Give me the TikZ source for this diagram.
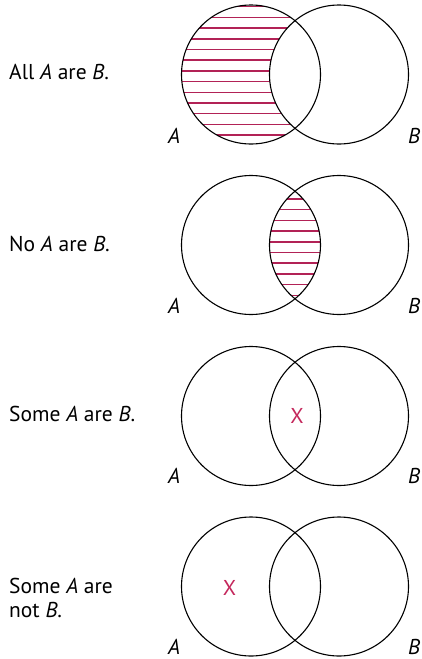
\documentclass[tikz,border=0pt]{standalone}
\usepackage{fontspec}
\setmainfont{PT Sans}
\definecolor{hatch}{RGB}{178,34,86}
\definecolor{xmark}{RGB}{196,40,92}
\begin{document}
\begin{tikzpicture}[x=1pt,y=-1pt,
  venn/.style={draw=black,line width=1.1pt,circle,minimum size=139pt,inner sep=0pt},
  lbl/.style={font=\fontsize{21.5}{24}\selectfont,anchor=base west,inner sep=0pt},
  setlbl/.style={font=\fontsize{21.5}{24}\selectfont\itshape,anchor=base,inner sep=0pt},
  hatchline/.style={draw=hatch,line width=1.5pt},
  xlbl/.style={font=\fontsize{21.5}{24}\selectfont,text=xmark,inner sep=0pt}]
\useasboundingbox (0,0) rectangle (421,659);
% ---------- row 1 ----------
\begin{scope}[even odd rule]
  \clip (251,74.5) circle (69.5);
  \clip (0,0) rectangle (421,160) (339,74.5) circle (69.5);
  \foreach \k in {0,...,12} {
    \draw[hatchline] (170,{6.7+10.7*\k}) -- (330,{6.7+10.7*\k});
  }
\end{scope}
\node[venn] (a1) at (251,74.5) {};
\node[venn] (b1) at (339,74.5) {};
\node[lbl] (t1) at (9,79) {All \textit{A} are \textit{B}.};
\node[setlbl] (la1) at (174,143) {A};
\node[setlbl] (lb1) at (414,143) {B};
% ---------- row 2 ----------
\begin{scope}
  \clip (251,245) circle (69.5);
  \clip (339,245) circle (69.5);
  \foreach \k in {0,...,11} {
    \draw[hatchline] (260,{188.3+10.7*\k}) -- (330,{188.3+10.7*\k});
  }
\end{scope}
\node[venn] (a2) at (251,245) {};
\node[venn] (b2) at (339,245) {};
\node[lbl] (t2) at (9,251) {No \textit{A} are \textit{B}.};
\node[setlbl] (la2) at (174,313) {A};
\node[setlbl] (lb2) at (414,313) {B};
% ---------- row 3 ----------
\node[venn] (a3) at (251,416) {};
\node[venn] (b3) at (339,416) {};
\node[xlbl] (x3) at (297,416) {X};
\node[lbl] (t3) at (9,421) {Some \textit{A} are \textit{B}.};
\node[setlbl] (la3) at (174,483) {A};
\node[setlbl] (lb3) at (414,483) {B};
% ---------- row 4 ----------
\node[venn] (a4) at (251,586.5) {};
\node[venn] (b4) at (339,586.5) {};
\node[xlbl] (x4) at (229.5,587.5) {X};
\node[lbl] (t4a) at (9,593) {Some \textit{A} are};
\node[lbl] (t4b) at (9,617) {not \textit{B}.};
\node[setlbl] (la4) at (174,654) {A};
\node[setlbl] (lb4) at (414,654) {B};
\end{tikzpicture}
\end{document}
